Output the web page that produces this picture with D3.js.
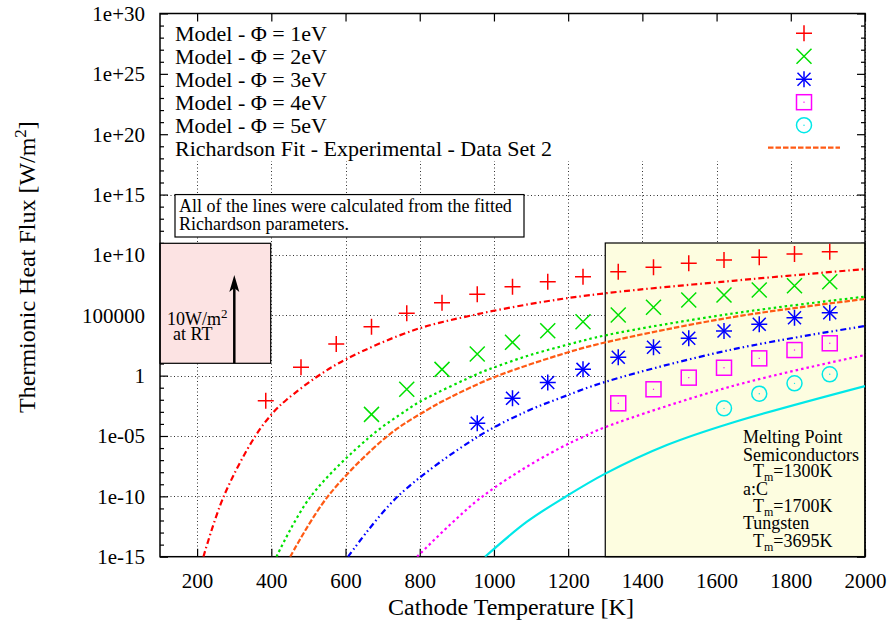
<!DOCTYPE html>
<html>
<head>
<meta charset="utf-8">
<script src="https://cdn.jsdelivr.net/npm/d3@7/dist/d3.min.js"></script>
<style>
  body { margin: 0; background: #fff; }
  #chart, #chart text { font-family: 'Liberation Serif', Tinos, 'Times New Roman', Times, serif; }
</style>
</head>
<body>
<svg id="chart" width="892" height="630" font-family="'Liberation Serif', Tinos, 'Times New Roman', serif">
  <text id="xtitle" x="511" y="615" text-anchor="middle" font-size="24" font-family="'Liberation Serif'">Cathode Temperature [K]</text>
</svg>
<script>
// ---- Model points: thermionic heat flux [W/m^2] at the sampled cathode temperatures [K]
const tempPhi1 = [385, 480, 575, 670, 765, 860, 955, 1050, 1145, 1240, 1335, 1430, 1525, 1620, 1715, 1810, 1905];
const fluxPhi1 = [8.3e-3, 4.9, 4.2e2, 1.12e4, 1.45e5, 1.1e6, 5.5e6, 2.34e7, 6.0e7, 1.55e8, 4.1e8, 9.3e8, 2.0e9, 3.8e9, 6.3e9, 1.17e10, 1.86e10];
const tempPhi2 = [670, 765, 860, 955, 1050, 1145, 1240, 1335, 1430, 1525, 1620, 1715, 1810, 1905];
const fluxPhi2 = [6.2e-4, 7.4e-2, 3.3, 62, 575, 5.2e3, 2.95e4, 1.05e5, 4.6e5, 1.82e6, 4.8e6, 1.23e7, 2.8e7, 6.0e7];
const tempPhi3 = [955, 1050, 1145, 1240, 1335, 1430, 1525, 1620, 1715, 1810, 1905];
const fluxPhi3 = [1.12e-4, 1.32e-2, 0.27, 3.3, 33, 224, 1.23e3, 5.0e3, 1.78e4, 6.3e4, 1.62e5];
const tempPhi4 = [1335, 1430, 1525, 1620, 1715, 1810, 1905];
const fluxPhi4 = [5.1e-3, 7.4e-2, 0.68, 4.5, 27, 132, 479];
const tempPhi5 = [1620, 1715, 1810, 1905];
const fluxPhi5 = [1.95e-3, 3.2e-2, 0.23, 1.29];

// ---- Curves from the fitted Richardson parameters
const lineTempPhi1 = [217, 271, 357, 411, 443, 523, 604, 785, 945, 1134, 1305, 1644, 2000];
const lineFluxPhi1 = [1e-15, 8.7e-11, 1e-5, 1.4e-3, 1.12e-2, 0.81, 25, 6.0e3, 1.05e5, 1.32e6, 6.9e6, 7.2e7, 6.8e8];
const lineTempPhi2 = [414, 505, 667, 765, 801, 963, 999, 1089, 1196, 1304, 1644, 2000];
const lineFluxPhi2 = [1e-15, 8.7e-11, 9.3e-6, 1.4e-3, 7.1e-3, 1.74, 4.6, 42, 3.5e2, 2.3e3, 1.41e5, 3.5e6];
const lineTempRich = [451, 551, 712, 819, 882, 999, 1196, 1304, 1644, 2000];
const lineFluxRich = [1e-15, 8.7e-11, 9.3e-6, 1.4e-3, 1.58e-2, 0.71, 79, 6.0e2, 7.1e4, 2.24e6];
const lineTempPhi3 = [607, 739, 957, 1089, 1170, 1304, 1644, 2000];
const lineFluxPhi3 = [1e-15, 8.7e-11, 8.9e-6, 1.12e-3, 1.12e-2, 0.33, 1.51e2, 1.29e4];
const lineTempPhi4 = [793, 880, 963, 1070, 1178, 1240, 1300, 1644, 2000];
const lineFluxPhi4 = [1e-15, 4.0e-13, 7.1e-11, 1.26e-8, 1.0e-6, 8.3e-6, 5.4e-5, 0.14, 51];
const lineTempPhi5 = [976, 1089, 1192, 1300, 1466, 1644, 2000];
const lineFluxPhi5 = [1e-15, 7.9e-13, 8.9e-11, 7.6e-9, 1.78e-6, 1.32e-4, 0.138];

// ---- Axis ticks
const xTicks = [200, 400, 600, 800, 1000, 1200, 1400, 1600, 1800, 2000];
const yTicks = [1e30, 1e25, 1e20, 1e15, 1e10, 1e5, 1, 1e-5, 1e-10, 1e-15];
const yTickLabels = ["1e+30", "1e+25", "1e+20", "1e+15", "1e+10", "100000", "1", "1e-05", "1e-10", "1e-15"];
const yMinorExponents = [29, 28, 27, 26, 24, 23, 22, 21, 19, 18, 17, 16, 14, 13, 12, 11, 9, 8, 7, 6, 4, 3, 2, 1,
                         -1, -2, -3, -4, -6, -7, -8, -9, -11, -12, -13, -14];

// ---- Legend
const legendLabels = ["1eV", "2eV", "3eV", "4eV", "5eV"];
const richardsonLabel = "Richardson Fit - Experimental - Data Set 2";

const colors = { phi1: "#ff0000", phi2: "#00e000", phi3: "#0000ff", phi4: "#ff00ff", phi5: "#00e8e8", rich: "#ff5a14" };
const FONT = "'Liberation Serif', Tinos, 'Times New Roman', serif";

const plotL = 160, plotR = 865, plotT = 13.5, plotB = 556.7;

const svg = d3.select("#chart");
const x = d3.scaleLinear().domain([100, 2000]).range([plotL, plotR]);
const y = d3.scaleLog().domain([1e-15, 1e30]).range([plotB, plotT]);

// grid
const grid = svg.insert("g", "#xtitle").attr("stroke", "#333").attr("stroke-width", 1).attr("stroke-dasharray", "1,2.5");
grid.selectAll("line.v").data(xTicks).join("line")
  .attr("x1", d => Math.round(x(d)) + 0.5).attr("x2", d => Math.round(x(d)) + 0.5)
  .attr("y1", plotT).attr("y2", plotB);
grid.selectAll("line.h").data(yTicks.slice(1, -1)).join("line")
  .attr("y1", d => Math.round(y(d)) + 0.5).attr("y2", d => Math.round(y(d)) + 0.5)
  .attr("x1", plotL).attr("x2", plotR);

// opaque key area
svg.append("rect").attr("x", plotL + 1).attr("y", plotT + 1).attr("width", plotR - plotL - 2).attr("height", 160 - plotT)
  .attr("fill", "#fff");

// axes
const minorVals = yMinorExponents.map(e => Math.pow(10, e));
const gx = svg.append("g").attr("transform", `translate(0,${plotB})`)
  .call(d3.axisBottom(x).tickValues(xTicks).tickSizeInner(-8).tickSizeOuter(0).tickPadding(16).tickFormat(d3.format("d")));
const gxTop = svg.append("g").attr("transform", `translate(0,${plotT})`)
  .call(d3.axisTop(x).tickValues(xTicks).tickSizeInner(-8).tickSizeOuter(0).tickFormat(""));
const gy = svg.append("g").attr("transform", `translate(${plotL},0)`)
  .call(d3.axisLeft(y).tickValues(yTicks).tickSizeInner(-8).tickSizeOuter(0).tickPadding(15)
    .tickFormat((d, i) => yTickLabels[i]));
const gyMinor = svg.append("g").attr("transform", `translate(${plotL},0)`)
  .call(d3.axisLeft(y).tickValues(minorVals).tickSizeInner(-4).tickSizeOuter(0).tickFormat(""));
const gyR = svg.append("g").attr("transform", `translate(${plotR},0)`)
  .call(d3.axisRight(y).tickValues(yTicks).tickSizeInner(-8).tickSizeOuter(0).tickFormat(""));
const gyRMinor = svg.append("g").attr("transform", `translate(${plotR},0)`)
  .call(d3.axisRight(y).tickValues(minorVals).tickSizeInner(-4).tickSizeOuter(0).tickFormat(""));
[gx, gxTop, gy, gyMinor, gyR, gyRMinor].forEach(g => {
  g.attr("font-family", FONT).attr("font-size", 21);
  g.select(".domain").remove();
  g.selectAll(".tick line").attr("stroke", "#000").attr("stroke-width", 1.2);
  g.selectAll("text").attr("fill", "#000");
});
gx.selectAll("text").attr("dy", "0.71em");
gy.selectAll("text").attr("dy", "0.33em");

// annotation panels
svg.append("rect").attr("x", plotL).attr("y", 243.3).attr("width", 270.7 - plotL).attr("height", 363.3 - 243.3)
  .attr("fill", "#fce3e3").attr("stroke", "#000").attr("stroke-width", 1.2);
svg.append("rect").attr("x", x(1300)).attr("y", 243).attr("width", plotR - x(1300)).attr("height", plotB - 243)
  .attr("fill", "#fdfde0").attr("stroke", "#000").attr("stroke-width", 1.2);
svg.append("rect").attr("x", 175).attr("y", y(1e15)).attr("width", 524 - 175).attr("height", 237 - y(1e15))
  .attr("fill", "#fff").attr("stroke", "#000").attr("stroke-width", 1.2);

// frame
svg.append("rect").attr("x", plotL).attr("y", plotT).attr("width", plotR - plotL).attr("height", plotB - plotT)
  .attr("fill", "none").attr("stroke", "#000").attr("stroke-width", 1.5);

// curves
svg.append("clipPath").attr("id", "plotclip").append("rect")
  .attr("x", plotL).attr("y", plotT).attr("width", plotR - plotL).attr("height", plotB - plotT);
const line = d3.line().x(d => x(d[0])).y(d => y(d[1])).curve(d3.curveCatmullRom.alpha(0.5));
const curves = [
  { t: lineTempPhi1, v: lineFluxPhi1, color: colors.phi1, dash: "6,3,1.5,3" },
  { t: lineTempPhi2, v: lineFluxPhi2, color: colors.phi2, dash: "2.5,3" },
  { t: lineTempRich, v: lineFluxRich, color: colors.rich, dash: "5.5,2" },
  { t: lineTempPhi3, v: lineFluxPhi3, color: colors.phi3, dash: "6,3,1.5,3,1.5,3" },
  { t: lineTempPhi4, v: lineFluxPhi4, color: colors.phi4, dash: "2.5,3" },
  { t: lineTempPhi5, v: lineFluxPhi5, color: colors.phi5, dash: null }
];
const curveG = svg.append("g").attr("clip-path", "url(#plotclip)");
curves.forEach(c => {
  curveG.append("path").datum(d3.zip(c.t, c.v)).attr("d", line)
    .attr("fill", "none").attr("stroke", c.color).attr("stroke-width", 2.2)
    .attr("stroke-dasharray", c.dash);
});

// marker shapes
function drawMarker(g, kind, cx, cy, color) {
  const s = 8;
  const p = g.append("g").attr("transform", `translate(${cx},${cy})`)
    .attr("stroke", color).attr("stroke-width", 1.5).attr("fill", "none");
  if (kind === "plus" || kind === "star") {
    p.append("path").attr("d", `M${-s},0H${s}M0,${-s}V${s}`);
  }
  if (kind === "cross" || kind === "star") {
    const k = kind === "star" ? 6.5 : 7.5;
    p.append("path").attr("d", `M${-k},${-k}L${k},${k}M${-k},${k}L${k},${-k}`);
  }
  if (kind === "square") {
    p.append("rect").attr("x", -7.5).attr("y", -7.5).attr("width", 15).attr("height", 15);
    p.append("rect").attr("x", -0.6).attr("y", -0.6).attr("width", 1.2).attr("height", 1.2).attr("fill", color).attr("stroke", "none");
  }
  if (kind === "circle") {
    p.append("circle").attr("r", 7.5);
    p.append("circle").attr("r", 0.7).attr("fill", color).attr("stroke", "none");
  }
}
const series = [
  { t: tempPhi1, v: fluxPhi1, color: colors.phi1, kind: "plus" },
  { t: tempPhi2, v: fluxPhi2, color: colors.phi2, kind: "cross" },
  { t: tempPhi3, v: fluxPhi3, color: colors.phi3, kind: "star" },
  { t: tempPhi4, v: fluxPhi4, color: colors.phi4, kind: "square" },
  { t: tempPhi5, v: fluxPhi5, color: colors.phi5, kind: "circle" }
];
const markG = svg.append("g");
series.forEach(s => s.t.forEach((t, i) => drawMarker(markG, s.kind, x(t), y(s.v[i]), s.color)));

// legend
const legG = svg.append("g").attr("font-family", FONT).attr("font-size", 22);
const rowY0 = 40.7, rowStep = 23;
series.forEach((s, i) => {
  legG.append("text").attr("x", 175).attr("y", rowY0 + i * rowStep)
    .text(`Model - \u03A6 = ${legendLabels[i]}`);
  drawMarker(legG, s.kind, 804, rowY0 + i * rowStep - 7.5, s.color);
});
legG.append("text").attr("x", 175).attr("y", rowY0 + 5 * rowStep).text(richardsonLabel);
legG.append("line").attr("x1", 768).attr("x2", 840).attr("y1", rowY0 + 5 * rowStep - 8).attr("y2", rowY0 + 5 * rowStep - 8)
  .attr("stroke", colors.rich).attr("stroke-width", 2.2).attr("stroke-dasharray", "5.5,2");

// note box text
const noteG = svg.append("g").attr("font-family", FONT).attr("font-size", 18);
noteG.append("text").attr("x", 179).attr("y", 212.3).text("All of the lines were calculated from the fitted");
noteG.append("text").attr("x", 179).attr("y", 230).text("Richardson parameters.");

// room-temperature arrow
const ax = 234.3;
svg.append("line").attr("x1", ax).attr("x2", ax).attr("y1", 363.3).attr("y2", 285)
  .attr("stroke", "#000").attr("stroke-width", 2.5);
svg.append("path").attr("d", `M${ax},275L${ax - 5},292L${ax},288L${ax + 5},292Z`).attr("fill", "#000");
const rtG = svg.append("g").attr("font-family", FONT).attr("font-size", 18);
const rt1 = rtG.append("text").attr("x", 167).attr("y", 325);
rt1.append("tspan").text("10W/m");
rt1.append("tspan").attr("dy", -7).attr("font-size", 13).text("2");
rtG.append("text").attr("x", 173).attr("y", 340).text("at RT");

// melting point notes
const mp = [
  { x: 743, y: 443.3, main: "Melting Point" },
  { x: 743, y: 460.5, main: "Semiconductors" },
  { x: 753, y: 477.3, main: "T", sub: "m", rest: "=1300K" },
  { x: 743, y: 495, main: "a:C" },
  { x: 753, y: 511.7, main: "T", sub: "m", rest: "=1700K" },
  { x: 743, y: 529, main: "Tungsten" },
  { x: 753, y: 546.7, main: "T", sub: "m", rest: "=3695K" }
];
const mpG = svg.append("g").attr("font-family", FONT).attr("font-size", 18);
mp.forEach(r => {
  const t = mpG.append("text").attr("x", r.x).attr("y", r.y);
  t.append("tspan").text(r.main);
  if (r.sub) {
    t.append("tspan").attr("dy", 4).attr("font-size", 12).text(r.sub);
    t.append("tspan").attr("dy", -4).text(r.rest);
  }
});

// y-axis title
const yt = svg.append("text").attr("transform", "translate(35,267) rotate(-90)")
  .attr("text-anchor", "middle").attr("font-family", FONT).attr("font-size", 24);
yt.append("tspan").text("Thermionic Heat Flux [W/m");
yt.append("tspan").attr("dy", -9).attr("font-size", 17).text("2");
yt.append("tspan").attr("dy", 9).text("]");
</script>
</body>
</html>
